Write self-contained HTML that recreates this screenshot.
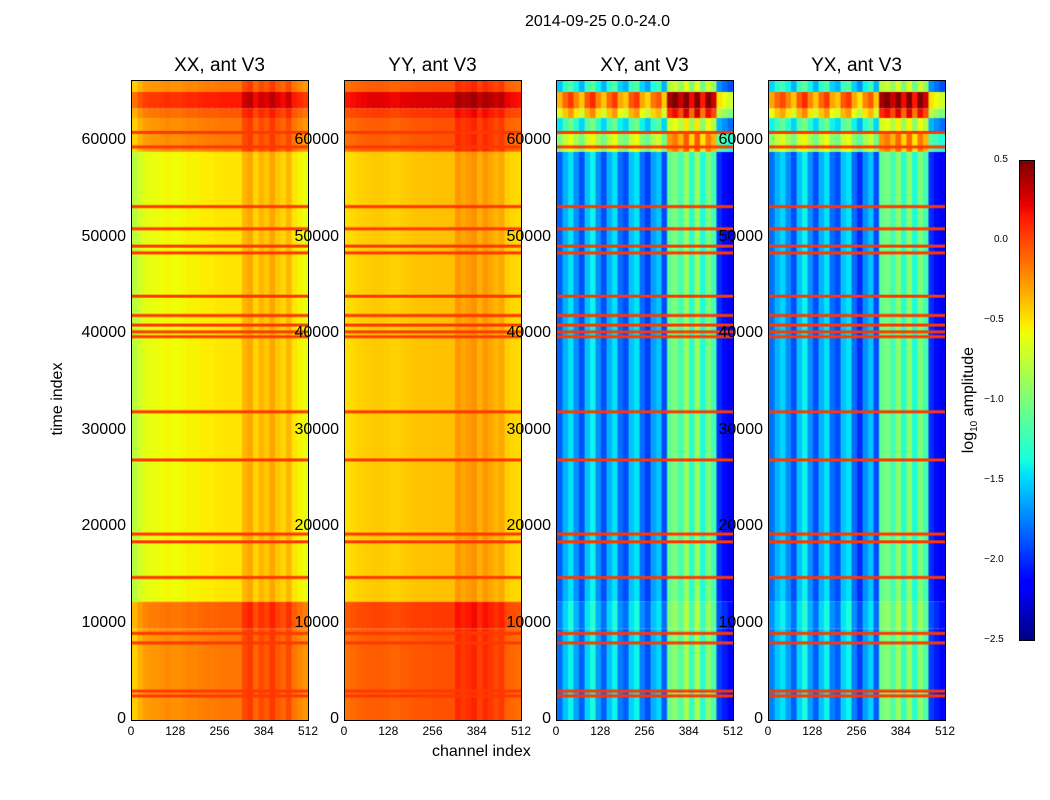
<!DOCTYPE html>
<html><head><meta charset="utf-8"><style>
body{margin:0;background:#fff;width:1050px;height:800px;position:relative;overflow:hidden;font-family:"Liberation Sans",sans-serif}
.abs{position:absolute}
canvas{position:absolute;border:1px solid #000;box-sizing:border-box}
.yt{position:absolute;font-size:16px;text-align:right;width:70px}
.xt{position:absolute;font-size:12px;width:40px;text-align:center}
.pt{position:absolute;font-size:19px;width:177px;text-align:center}
</style></head><body>
<div class="abs" style="left:525px;top:13px;font-size:16px">2014-09-25 0.0-24.0</div>
<div class="abs" style="left:-2px;top:390px;font-size:16px;transform:rotate(-90deg);width:120px;text-align:center">time index</div>
<div class="abs" style="left:432px;top:743px;font-size:16px">channel index</div>
<div id="root"></div>
<canvas id="cb" width="15" height="480" style="left:1019px;top:160px;width:16px;height:481px"></canvas>
<div class="abs" style="left:905px;top:390px;font-size:16px;transform:rotate(-90deg);width:130px;text-align:center">log<sub style="font-size:10px">10</sub> amplitude</div>
<script>
const panelTitles=["XX, ant V3","YY, ant V3","XY, ant V3","YX, ant V3"];
const panelX=[131,344,556,768];
const yTicks=[0,10000,20000,30000,40000,50000,60000];
const xTicks=[0,128,256,384,512];
const cbTicks=[0.5,0.0,-0.5,-1.0,-1.5,-2.0,-2.5];
const colXX=[-0.78,-0.68,-0.62,-0.6,-0.6,-0.58,-0.56,-0.58,-0.58,-0.56,-0.54,-0.55,-0.53,-0.52,-0.52,-0.51,-0.5,-0.5,-0.5,-0.5,-0.35,-0.3,-0.45,-0.35,-0.4,-0.3,-0.4,-0.45,-0.35,-0.5,-0.55,-0.6];
const colYY=[-0.48,-0.46,-0.44,-0.43,-0.42,-0.41,-0.41,-0.42,-0.44,-0.44,-0.42,-0.41,-0.4,-0.39,-0.39,-0.39,-0.38,-0.38,-0.38,-0.38,-0.25,-0.3,-0.27,-0.23,-0.33,-0.25,-0.3,-0.35,-0.3,-0.43,-0.45,-0.47];
const colXY=[-1.85,-1.6,-1.45,-1.7,-1.9,-1.55,-1.4,-1.7,-1.9,-1.6,-1.45,-1.8,-1.9,-1.55,-1.45,-1.8,-1.95,-1.65,-1.55,-1.9,-1.1,-1.0,-1.2,-0.9,-1.3,-0.9,-1.35,-1.0,-1.2,-2.0,-2.1,-2.2];
const colYX=[-1.8,-1.6,-1.5,-1.7,-1.9,-1.55,-1.4,-1.7,-1.9,-1.6,-1.45,-1.8,-1.9,-1.55,-1.45,-1.8,-2.0,-1.7,-1.55,-1.9,-1.1,-1.0,-1.2,-0.95,-1.3,-0.95,-1.35,-1.0,-1.2,-2.0,-2.1,-2.2];
const regCo=[[0,9500,0.35],[9500,12300,0.43],[12300,59000,0],[59000,62500,0.35],[62500,63500,0.45],[63500,65200,0.65],[65200,66400,0.35]];
const regX=[[0,9500,0.05],[9500,12300,0.1],[12300,59000,0],[59000,61000,0.85],[61000,62500,0.4],[62500,63500,1.2],[63500,65200,1.5],[65200,66400,0.3]];
const redLines=[2500,3000,8000,9000,14800,18500,19300,27000,32000,39800,40300,41000,42000,44000,48500,49200,51000,53300,59500,61000];
const cols=[colXX,colYY,colXY,colYX];
const regs=[regCo,regCo,regX,regX];
const YMAX=66340,H=640,W=177;
function seg(t,p){for(let i=1;i<p.length;i++){if(t<=p[i][0]){const a=p[i-1],b=p[i];return a[1]+(b[1]-a[1])*(t-a[0])/(b[0]-a[0]);}}return p[p.length-1][1];}
function jet(v){let t=(v+2.5)/3;t=Math.max(0,Math.min(1,t));
 const r=seg(t,[[0,0],[0.35,0],[0.66,1],[0.89,1],[1,0.5]]);
 const g=seg(t,[[0,0],[0.125,0],[0.375,1],[0.64,1],[0.91,0],[1,0]]);
 const b=seg(t,[[0,0.5],[0.11,1],[0.34,1],[0.65,0],[1,0]]);
 return `rgb(${r*255|0},${g*255|0},${b*255|0})`;}
const yPix=t=>H-t/YMAX*H;
const root=document.getElementById('root');
panelX.forEach((px,i)=>{
 const c=document.createElement('canvas');c.width=W;c.height=H;
 
 
 c.style.left=px+'px';c.style.top='80px';c.style.width=(W+1)+'px';c.style.height=(H+1)+'px';
 root.appendChild(c);const g=c.getContext('2d');
 regs[i].forEach(r=>{cols[i].forEach((v,k)=>{g.fillStyle=jet(v+r[2]);
  const x0=k*W/32,y0=yPix(r[1]),y1=yPix(r[0]);g.fillRect(x0,y0,W/32+1,y1-y0);});});
 redLines.forEach(t=>{g.fillStyle=jet(0.05);g.fillRect(0,yPix(t)-1.5,W,3);});
 const tt=document.createElement('div');tt.className='pt';tt.textContent=panelTitles[i];
 
 
 tt.style.left=px+'px';tt.style.top='55px';root.appendChild(tt);
 yTicks.forEach(v=>{const d=document.createElement('div');d.className='yt';d.textContent=v;
  
  
  d.style.left=(px-75)+'px';d.style.top=(80+yPix(v)-10)+'px';root.appendChild(d);});
 xTicks.forEach(v=>{const d=document.createElement('div');d.className='xt';d.textContent=v;
  
  
  d.style.left=(px+v/512*W-20)+'px';d.style.top='724px';root.appendChild(d);});
});
const cb=document.getElementById('cb').getContext('2d');
for(let y=0;y<480;y++){cb.fillStyle=jet(0.5-y/480*3);cb.fillRect(0,y,15,1);}
cbTicks.forEach(v=>{const d=document.createElement('div');d.className='abs';d.textContent=v.toFixed(1).replace('-','\u2212');
 
 
 d.style.cssText=`font-size:10px;left:${(v<0?984:994)}px;top:${160+(0.5-v)/3*480-6}px`;root.appendChild(d);});
</script>
</body></html>
